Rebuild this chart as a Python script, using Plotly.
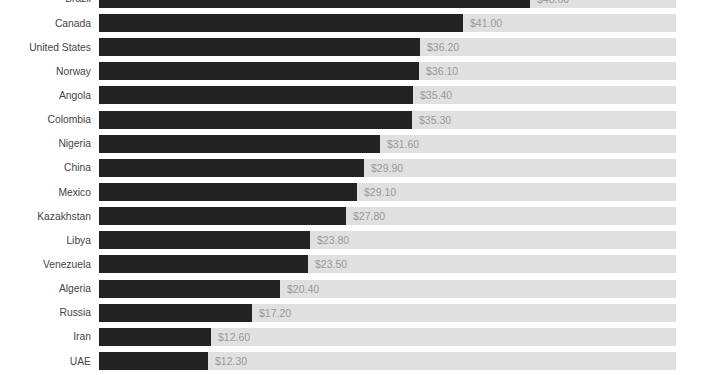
import plotly.graph_objects as go

countries = ["Brazil", "Canada", "United States", "Norway", "Angola", "Colombia",
             "Nigeria", "China", "Mexico", "Kazakhstan", "Libya", "Venezuela",
             "Algeria", "Russia", "Iran", "UAE"]
costs = [48.60, 41.00, 36.20, 36.10, 35.40, 35.30, 31.60, 29.90, 29.10, 27.80,
         23.80, 23.50, 20.40, 17.20, 12.60, 12.30]
axis_max = 65
cost_labels = [f"${v:.2f}" for v in costs]

idx = list(range(len(countries)))

fig = go.Figure()
fig.add_trace(go.Bar(
    y=idx, x=[axis_max] * len(idx), orientation="h",
    marker=dict(color="#e0e0e0", line=dict(width=0)),
    width=0.75, hoverinfo="skip", showlegend=False,
))
fig.add_trace(go.Bar(
    y=idx, x=costs, orientation="h",
    marker=dict(color="#222222", line=dict(width=0)),
    width=0.75, showlegend=False,
))

for i, (v, lab) in enumerate(zip(costs, cost_labels)):
    fig.add_annotation(x=v, y=i, text=lab, showarrow=False, xanchor="left",
                       xshift=5, font=dict(family="Liberation Sans, Arial", size=10.5, color="#999999"))

fig.update_layout(
    width=710, height=395,
    margin=dict(l=99, r=34, t=0, b=0),
    barmode="overlay",
    bargap=0,
    plot_bgcolor="white", paper_bgcolor="white",
    xaxis=dict(range=[0, axis_max], visible=False, fixedrange=True),
    yaxis=dict(range=[15.58, -0.781], tickmode="array", tickvals=idx, ticktext=countries,
               showgrid=False, zeroline=False, showline=False, ticks="",
               ticklabelstandoff=7,
               tickfont=dict(family="Liberation Sans, Arial", size=10.3, color="#444444")),
    font=dict(family="Liberation Sans, Arial"),
)

fig.write_html(
    "out.html",
    config={"displayModeBar": False},
    post_script="document.body.style.margin='0';"
                "document.getElementById('{plot_id}').style.marginTop='-20px';",
)
